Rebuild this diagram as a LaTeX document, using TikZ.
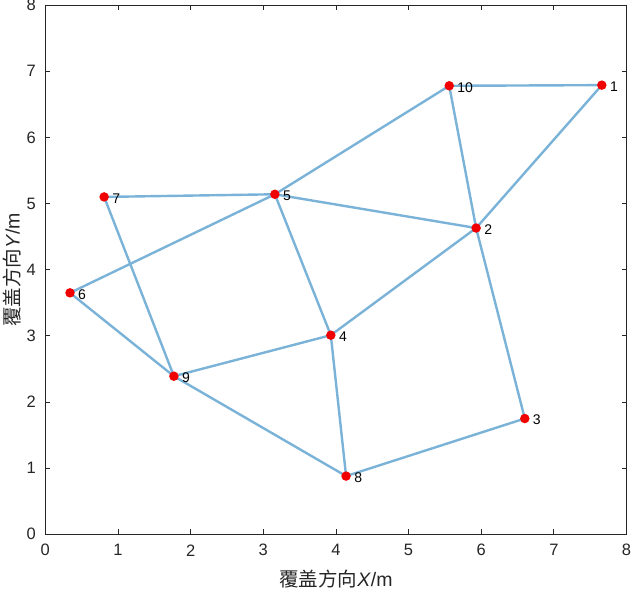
\documentclass[tikz,border=0pt]{standalone}
\usepackage{fontspec}
\setmainfont{Liberation Sans}
\newfontfamily\cjk{Noto Sans CJK SC}
\definecolor{edgecol}{RGB}{122,178,216}
\definecolor{axiscol}{RGB}{38,38,38}
\definecolor{nodered}{RGB}{240,0,0}
\begin{document}
\begin{tikzpicture}[x=72.65pt,y=66.15pt,
  edge/.style={draw=edgecol,line width=2.4pt},
  pt/.style={circle,fill=nodered,inner sep=0pt,minimum size=9.5pt},
  lbl/.style={font=\fontsize{14}{14}\selectfont,anchor=west,inner sep=0pt},
  tick/.style={font=\fontsize{16.5}{16.5}\selectfont,text=axiscol},
  axis/.style={draw=axiscol,line width=0.8pt}]
\useasboundingbox (-45.3pt,-59.7pt) rectangle (588.7pt,534.3pt);
% axes
\draw[axis] (0,0) rectangle (8,8);
\foreach \i in {1,...,7}{
  \draw[axis] (\i,0) -- ++(0,5pt);
  \draw[axis] (\i,8) -- ++(0,-5pt);
  \draw[axis] (0,\i) -- ++(5pt,0);
  \draw[axis] (8,\i) -- ++(-5pt,0);
}
\foreach \i in {0,...,8}{
  \node[tick] (xt\i) at ([yshift=-16pt]\i,0) {\i};
  \node[tick,anchor=east] (yt\i) at ([xshift=-6pt]0,\i) {\i};
}
\node[font=\fontsize{19.5}{19.5}\selectfont,text=axiscol] (xl) at ([yshift=-45pt]4,0) {{\cjk 覆盖方向}\textit{X}/m};
\node[font=\fontsize{19.5}{19.5}\selectfont,text=axiscol,rotate=90] (yl) at ([xshift=-33pt]0,4) {{\cjk 覆盖方向}\textit{Y}/m};
% nodes
\coordinate (n1) at (7.66,6.79);
\coordinate (n2) at (5.93,4.63);
\coordinate (n3) at (6.60,1.75);
\coordinate (n4) at (3.93,3.01);
\coordinate (n5) at (3.16,5.14);
\coordinate (n6) at (0.34,3.65);
\coordinate (n7) at (0.81,5.10);
\coordinate (n8) at (4.14,0.88);
\coordinate (n9) at (1.77,2.39);
\coordinate (n10) at (5.56,6.78);
% edges
\foreach \a/\b in {10/1,1/2,10/2,10/5,5/2,7/5,5/6,5/4,2/4,2/3,7/9,6/9,9/4,9/8,4/8,8/3}
  \draw[edge] (n\a) -- (n\b);
\foreach \i in {1,...,10}{
  \node[pt] (p\i) at (n\i) {};
  \node[lbl] (l\i) at ([xshift=8pt,yshift=-1.5pt]n\i) {\i};
}
\end{tikzpicture}
\end{document}
